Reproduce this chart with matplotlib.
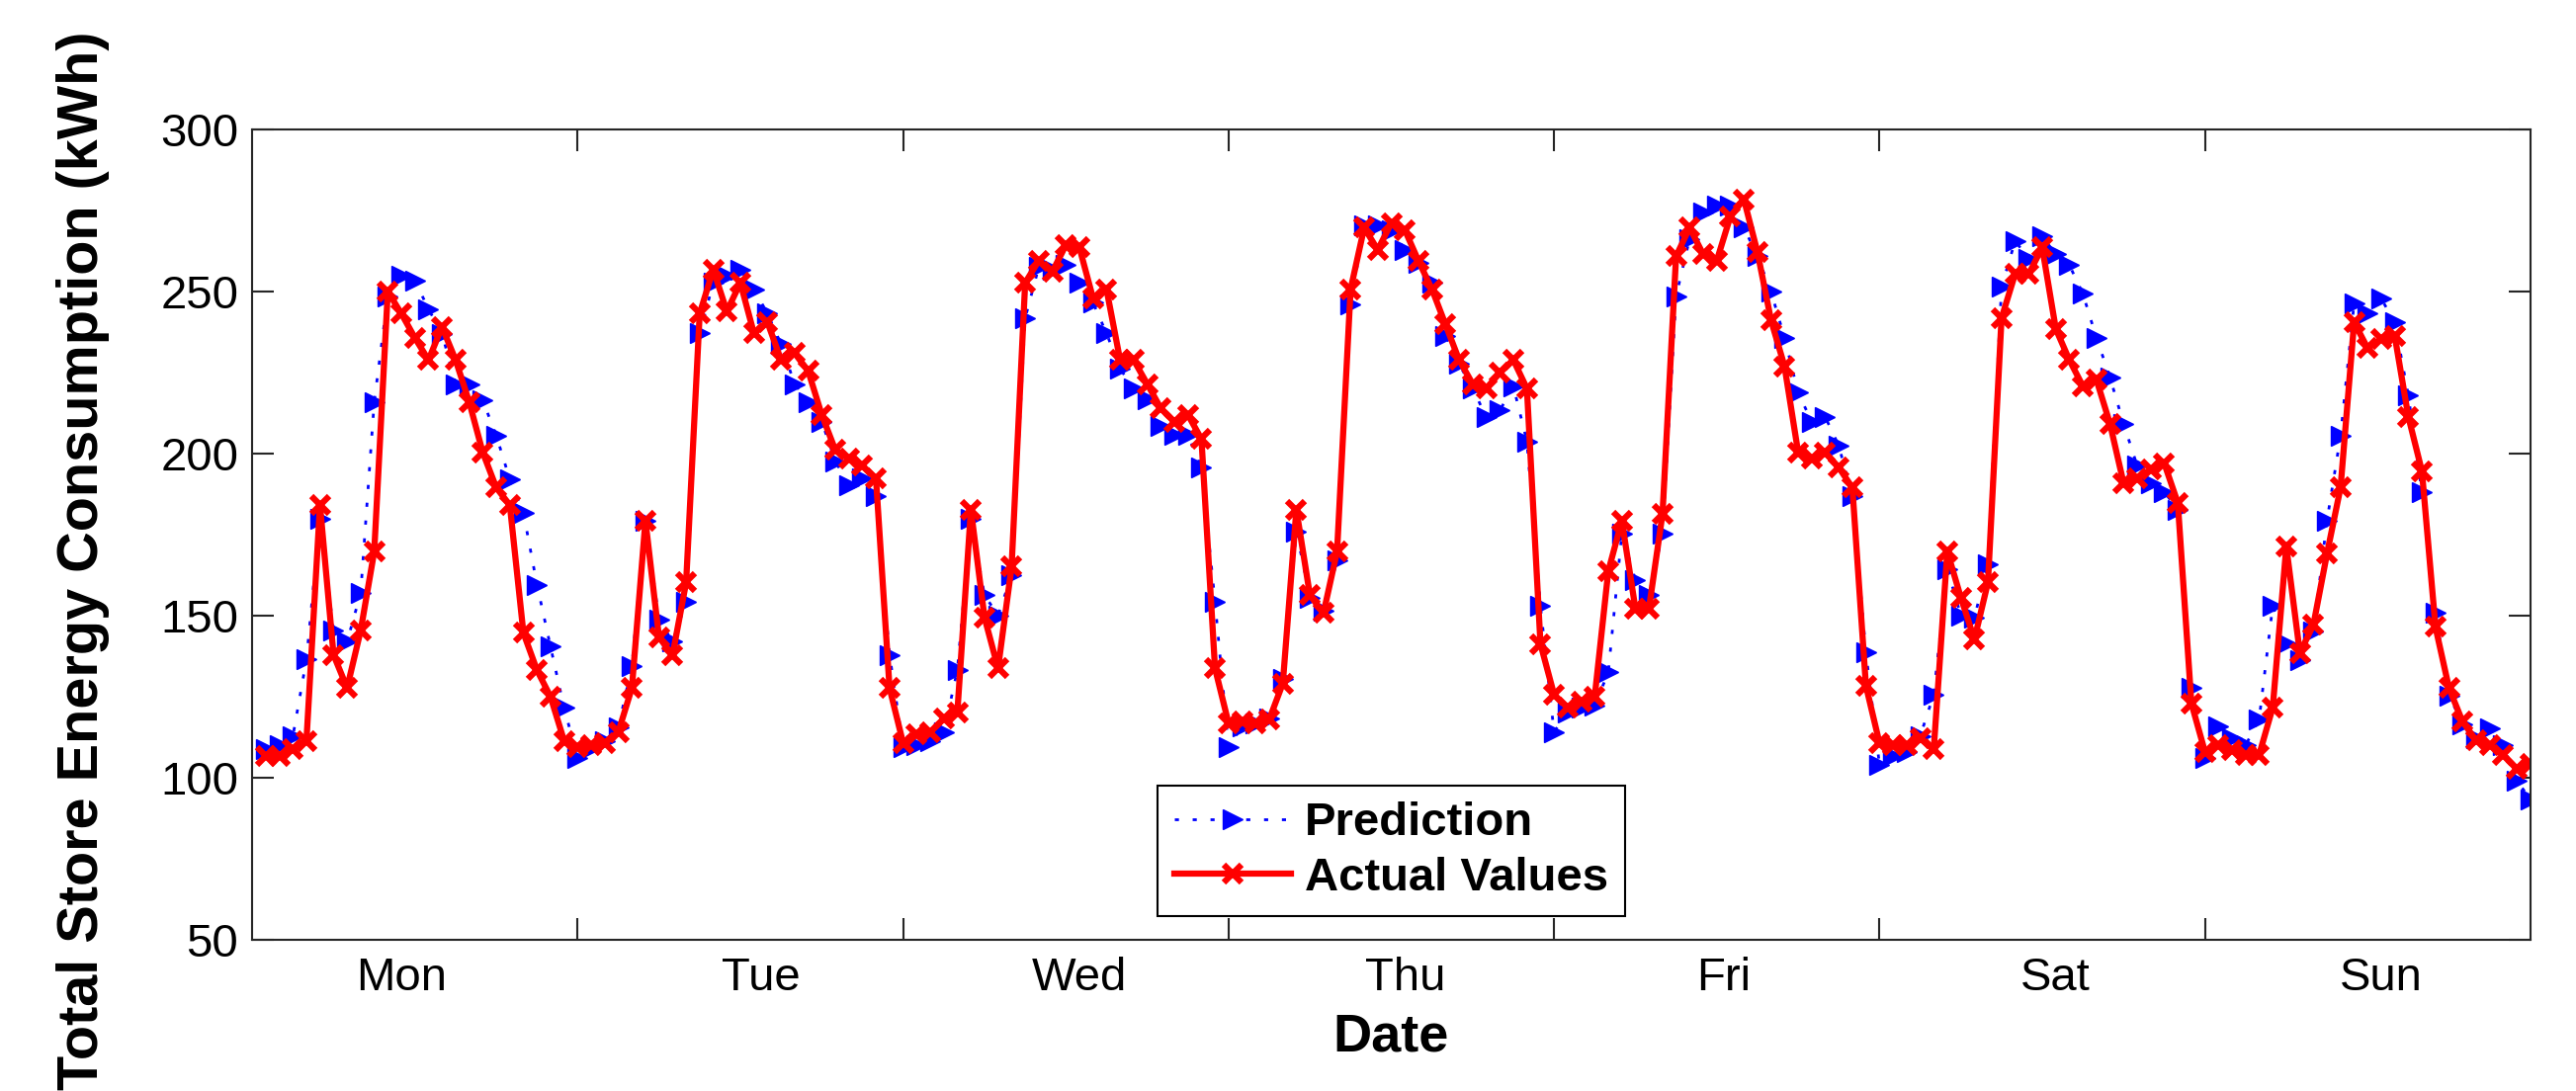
import numpy as np
import matplotlib
matplotlib.use("Agg")
import matplotlib.pyplot as plt

plt.rcParams["font.family"] = ["Liberation Sans", "DejaVu Sans"]

# Дни недели (подписи под осью)
DAYS = ["Mon", "Tue", "Wed", "Thu", "Fri", "Sat", "Sun"]

# Фактическое потребление магазина (kWh), по часам, одна строка = один день
actual_mon = [106.7, 106.7, 108.7, 111.4, 184.1, 137.9, 127.7, 145.4, 169.8, 250.0, 243.2, 235.7,
              228.9, 239.1, 228.9, 216.0, 200.4, 189.5, 184.1, 144.7, 133.2, 125.0, 111.4, 109.4]
actual_tue = [110.1, 110.7, 114.1, 127.7, 179.3, 143.3, 137.9, 160.3, 243.2, 256.8, 243.9, 252.7,
              237.1, 240.5, 228.9, 231.0, 225.5, 212.0, 201.1, 198.4, 196.3, 192.3, 127.7, 110.7]
actual_wed = [113.5, 114.1, 118.2, 120.2, 182.7, 149.5, 133.8, 165.1, 252.7, 259.5, 256.1, 264.3,
              263.6, 248.0, 250.7, 228.9, 228.9, 221.5, 214.0, 209.9, 212.0, 204.5, 133.8, 116.8]
actual_thu = [117.5, 116.8, 118.0, 129.1, 182.7, 156.3, 150.8, 169.8, 250.7, 269.7, 262.9, 271.1,
              269.0, 259.5, 250.7, 239.8, 228.9, 221.5, 220.1, 224.9, 228.9, 220.1, 141.3, 125.7]
actual_fri = [121.6, 123.6, 125.0, 163.7, 179.3, 152.2, 152.2, 181.4, 260.9, 269.7, 261.5, 259.5,
              273.1, 278.5, 262.2, 241.2, 226.9, 200.4, 198.4, 200.4, 195.7, 189.5, 128.4, 110.7]
actual_sat = [110.1, 110.1, 112.1, 108.7, 169.8, 155.6, 142.7, 160.3, 241.8, 255.4, 255.4, 263.6,
              238.5, 228.9, 220.8, 222.8, 209.2, 190.9, 192.3, 195.0, 197.0, 184.8, 123.0, 108.0]
actual_sun = [110.1, 108.6, 107.1, 107.1, 121.7, 171.3, 138.5, 147.2, 169.1, 189.5, 240.5, 232.5,
              235.4, 236.2, 211.4, 194.6, 146.5, 127.6, 117.3, 111.5, 110.0, 107.1, 102.8, 104.2]

# Прогноз модели (kWh)
pred_mon = [108.7, 110.0, 112.8, 136.5, 180.0, 145.4, 142.0, 157.0, 216.0, 248.6, 254.8, 253.4,
            244.6, 237.0, 221.5, 221.5, 216.4, 205.6, 192.0, 181.8, 159.6, 140.4, 121.6, 106.0]
pred_tue = [109.0, 111.4, 115.5, 134.5, 179.3, 148.8, 142.0, 154.2, 237.1, 252.7, 254.8, 256.8,
            250.7, 243.2, 233.7, 221.5, 216.0, 209.9, 197.7, 190.2, 192.3, 186.8, 137.9, 109.4]
pred_wed = [110.0, 111.4, 114.1, 133.2, 180.0, 156.3, 150.1, 162.4, 241.8, 257.5, 256.8, 258.2,
            252.7, 246.6, 237.1, 226.2, 220.1, 216.7, 208.6, 205.8, 205.8, 195.7, 154.2, 109.4]
pred_thu = [116.0, 116.8, 118.2, 130.4, 176.0, 155.6, 151.5, 167.1, 245.9, 270.4, 270.4, 269.0,
            262.9, 258.8, 252.7, 236.4, 227.6, 220.1, 211.3, 213.3, 220.8, 203.8, 152.9, 114.1]
pred_fri = [120.2, 121.6, 122.3, 132.5, 175.3, 161.0, 156.3, 175.3, 248.6, 266.3, 274.5, 276.5,
            276.5, 269.7, 260.9, 250.0, 235.7, 218.8, 209.9, 211.3, 202.4, 186.8, 138.6, 104.0]
pred_sat = [106.7, 108.0, 112.8, 125.7, 164.4, 150.1, 149.5, 165.8, 251.4, 265.6, 260.2, 267.0,
            261.5, 258.2, 249.3, 235.7, 223.5, 209.2, 196.3, 190.9, 188.2, 182.7, 127.7, 106.0]
pred_sun = [115.9, 112.2, 110.0, 118.1, 153.1, 141.4, 136.3, 145.0, 179.3, 205.5, 246.4, 243.4,
            247.8, 240.5, 217.9, 188.0, 150.9, 125.4, 116.6, 112.2, 115.2, 110.0, 99.1, 93.3]

actual = np.concatenate([actual_mon, actual_tue, actual_wed, actual_thu,
                         actual_fri, actual_sat, actual_sun])
prediction = np.concatenate([pred_mon, pred_tue, pred_wed, pred_thu,
                             pred_fri, pred_sat, pred_sun])
hours = np.arange(1, len(actual) + 1)   # часы 1..168 (индексы как в MATLAB)
n_hours = len(DAYS) * 24

# подписи дней стоят не ровно по центру суток (как в оригинале)
LABEL_HOURS = [11, 37.5, 61, 85, 108.5, 133, 157]

AXIS_COLOR = "#262626"

fig = plt.figure(figsize=(26.06, 11.04), dpi=100)
ax = fig.add_axes([0.0979, 0.1386, 0.8844, 0.7427])

ax.plot(hours, prediction, color="blue", linestyle=(0, (1.5, 5)), linewidth=2,
        marker=">", markersize=15, markerfacecolor="blue", markeredgecolor="blue",
        label="Prediction")
ax.plot(hours, actual, color="red", linewidth=4.5, marker="x", markersize=13,
        markeredgewidth=4.5, label="Actual Values")

ax.set_xlim(0, n_hours)
ax.set_ylim(50, 300)

# границы дней - засечки, подписи дней - отдельными minor-тиками
ax.set_xticks(np.arange(24, n_hours, 24))
ax.set_xticklabels([])
ax.set_xticks(LABEL_HOURS, minor=True)
ax.set_xticklabels(DAYS, minor=True)
ax.set_yticks(np.arange(50, 301, 50))

ax.tick_params(which="major", direction="in", length=16, width=1.5,
               top=True, right=True, labelsize=34, pad=10, color=AXIS_COLOR)
ax.tick_params(axis="x", which="minor", length=0, labelsize=34, pad=12)
for s in ax.spines.values():
    s.set_linewidth(1.5)
    s.set_color(AXIS_COLOR)

ax.set_xlabel("Date", fontsize=39, fontweight="bold", labelpad=9)
ax.set_ylabel("Total Store Energy Consumption (kWh)", fontsize=41.5, fontweight="bold",
              va="center")
ax.yaxis.set_label_coords(-0.0742, 0.468)

leg = ax.legend(loc="lower center", prop={"weight": "bold", "size": 34},
                frameon=True, fancybox=False, edgecolor="black", framealpha=1,
                handlelength=2.5, handletextpad=0.3, labelspacing=0.25,
                borderpad=0.35, borderaxespad=0.5, numpoints=1)
leg.get_frame().set_linewidth(1.5)

fig.savefig("out.png", dpi=100)
